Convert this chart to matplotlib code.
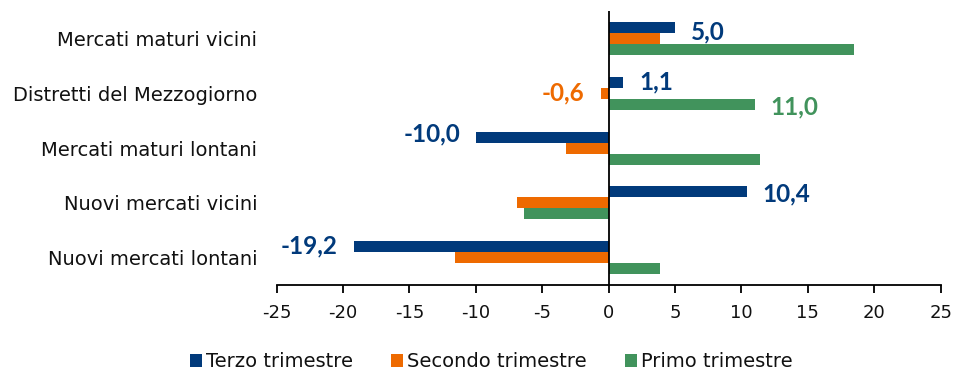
import matplotlib
matplotlib.use("Agg")
import matplotlib.pyplot as plt
import numpy as np

plt.rcParams['font.family'] = ['DejaVu Sans']
plt.rcParams['axes.unicode_minus'] = False

categorie = ["Mercati maturi vicini", "Distretti del Mezzogiorno", "Mercati maturi lontani",
             "Nuovi mercati vicini", "Nuovi mercati lontani"]
terzo = [5.0, 1.1, -10.0, 10.4, -19.2]
secondo = [3.9, -0.6, -3.2, -6.9, -11.6]
primo = [18.5, 11.0, 11.4, -6.4, 3.9]
serie = ["Terzo trimestre", "Secondo trimestre", "Primo trimestre"]
colori = ["#013A7B", "#EE6A00", "#41935C"]

fig = plt.figure(figsize=(9.54, 3.74), dpi=100)
ax = fig.add_axes([0.290, 0.238, 0.696, 0.732])

y = np.arange(len(categorie))
h = 0.2
for i, (vals, nome, col) in enumerate(zip([terzo, secondo, primo], serie, colori)):
    ax.barh(y + (i - 1) * h, vals, height=h, color=col, label=nome)

ax.set_ylim(len(categorie) - 0.5, -0.5)
ax.set_xlim(-25, 25)
ax.set_xticks(range(-25, 26, 5))
ax.set_yticks(y)
ax.set_yticklabels(categorie, fontsize=14, color='#111111')
ax.tick_params(axis='y', length=0, pad=14)
ax.tick_params(axis='x', direction='out', length=6, width=1.3, labelsize=13, pad=8,
               labelcolor='#111111')
for s in ['top', 'right', 'left']:
    ax.spines[s].set_visible(False)
ax.spines['bottom'].set_linewidth(1.3)
ax.axvline(0, color='black', lw=1.3)

# etichette dei valori
def etichetta(v, yy, col):
    testo = f"{v:.1f}".replace(".", ",")
    off = 1.2 if v >= 0 else -1.2
    ax.text(v + off, yy, testo, color=col, fontsize=17.5, fontweight='bold',
            family='Lato', ha='left' if v >= 0 else 'right', va='center')

etichetta(terzo[0], 0 - h * 0.6, colori[0])
etichetta(terzo[1], 1 - h, colori[0])
etichetta(secondo[1], 1, colori[1])
etichetta(primo[1], 1 + h * 1.2, colori[2])
etichetta(terzo[2], 2 - h * 1.3, colori[0])
etichetta(terzo[3], 3 - h * 0.8, colori[0])
etichetta(terzo[4], 4 - h * 1.1, colori[0])

fig.legend(loc='lower center', bbox_to_anchor=(0.515, -0.04), ncol=3, frameon=False,
           fontsize=14, handlelength=0.6, handleheight=0.6, handletextpad=0.2,
           columnspacing=2.0)
for t in fig.legends[0].get_texts():
    t.set_color('#111111')

fig.savefig("out.png", dpi=100)
